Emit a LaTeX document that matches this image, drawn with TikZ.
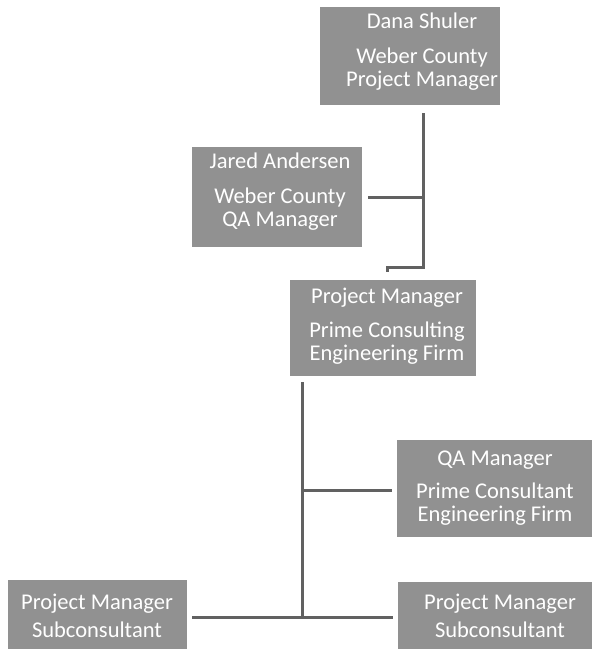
\documentclass[tikz,border=0pt]{standalone}
\usepackage{fontspec}
\setmainfont{Carlito}
\begin{document}
\begin{tikzpicture}[x=1pt,y=-1pt,
  box/.style={fill=black!43, draw=none, minimum width=#1, inner sep=0pt},
  boxtext/.style={text=white, align=center, inner sep=0pt,
    font=\fontsize{22.5}{23}\selectfont},
  conn/.style={draw=black!62, line width=3pt}]
\useasboundingbox (0,0) rectangle (592,649);
% boxes
\node[box=180pt, minimum height=98pt] (b1) at (410,56) {};
\node[boxtext] (b1t) at (422,52) {Dana Shuler\\[12pt]Weber County\\Project Manager};
\node[box=170pt, minimum height=100pt] (b2) at (277,197) {};
\node[boxtext] (b2t) at (280,191.5) {Jared Andersen\\[12pt]Weber County\\QA Manager};
\node[box=186pt, minimum height=96pt] (b3) at (383,328) {};
\node[boxtext] (b3t) at (387,326) {Project Manager\\[11pt]Prime Consulting\\Engineering Firm};
\node[box=196pt, minimum height=97pt] (b4) at (495,488.5) {};
\node[boxtext] (b4t) at (495,488) {QA Manager\\[10pt]Prime Consultant\\Engineering Firm};
\node[box=179pt, minimum height=70pt] (b5) at (97.5,615) {};
\node[boxtext] (b5t) at (97,615.5) {Project Manager\\[5pt]Subconsultant};
\node[box=194pt, minimum height=68pt] (b6) at (495,616) {};
\node[boxtext] (b6t) at (500,615.5) {Project Manager\\[5pt]Subconsultant};
% connector points
\coordinate (p1) at (423,113);
\coordinate (p2) at (423,267);
\coordinate (p3) at (387,272);
\coordinate (p4) at (368,197);
\coordinate (p5) at (302,382);
\coordinate (p6) at (302,617);
\coordinate (p7) at (392,490);
\coordinate (p8) at (192,617);
\coordinate (p9) at (393,617);
% connectors
\draw[conn] (p1) -- (p2) -| (p3);
\draw[conn] (p4) -- (p4 -| p1);
\draw[conn] (p5) -- (p6);
\draw[conn] (p7 -| p5) -- (p7);
\draw[conn] (p8) -- (p9);
\end{tikzpicture}
\end{document}
